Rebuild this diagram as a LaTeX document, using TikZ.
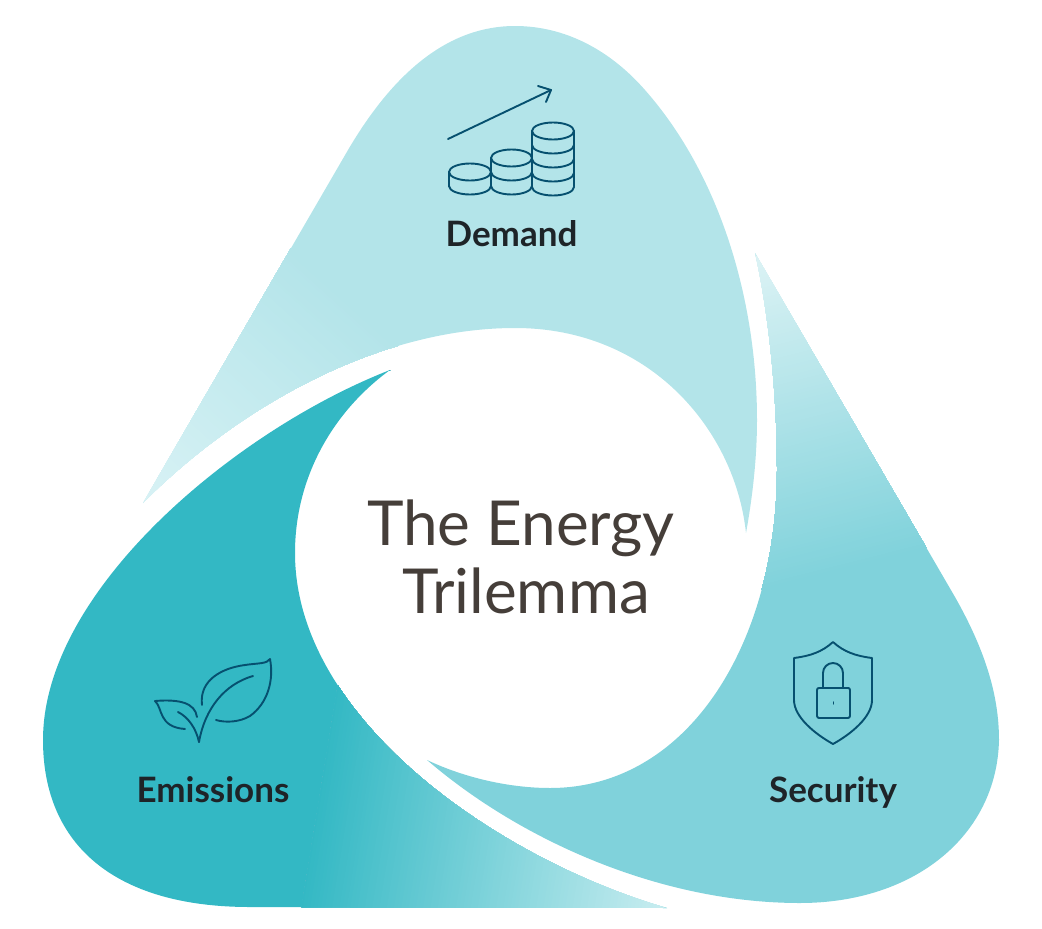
\documentclass[tikz,border=0pt]{standalone}
\usepackage{fontspec}
\setmainfont{Lato}
\definecolor{demandc}{HTML}{B3E4E9}
\definecolor{demandl}{HTML}{D8F2F5}
\definecolor{securc}{HTML}{80D2DB}
\definecolor{securl}{HTML}{DDF3F5}
\definecolor{emisc}{HTML}{33B8C4}
\definecolor{emisl}{HTML}{C8EDF0}
\definecolor{iconc}{HTML}{06506F}
\definecolor{titlec}{HTML}{453E39}
\definecolor{labelc}{HTML}{1E2428}
\newcommand{\gradrect}[6]{%
  \pgfmathsetmacro{\gang}{atan2(-(#4-#2),#3-#1)}%
  \pgfmathsetmacro{\glen}{veclen(#3-#1,#4-#2)}%
  \begin{scope}[shift={(#1,#2)},rotate=\gang]
    \fill[#5] (-1500,-1500) rectangle (\glen,1500);
    \foreach \pp in {1,...,100}{
      \pgfmathsetmacro{\gpos}{\glen/100*\pp}
      \fill[#6!\pp!#5] (\gpos,-1500) rectangle (\glen+1,1500);
    }
  \end{scope}}
\tikzset{
  icon/.style={draw=iconc,line width=1.9pt,line cap=round,line join=round,fill=none},
  lbl/.style={font=\fontsize{35}{39}\selectfont\bfseries,text=labelc,inner sep=0pt,anchor=base},
  ttl/.style={font=\fontsize{62}{70}\selectfont,text=titlec,inner sep=0pt,anchor=base}
}
\begin{document}
\begin{tikzpicture}[x=1pt,y=-1pt]
\useasboundingbox (0,0) rectangle (1042,929);
% Demand
\begin{scope}
\clip (143,503) -- (348,150) .. controls (395,70) and (450,26) .. (515,26)
 .. controls (565,26) and (610,50) .. (645,90)
 .. controls (720,175) and (757,300) .. (757,420)
 .. controls (757,460) and (752,500) .. (746,533)
 .. controls (735,430) and (650,328) .. (515,328)
 .. controls (380,328) and (240,405) .. (143,503) -- cycle;
\fill[demandc] (0,0) rectangle (1042,929);
\gradrect{143}{503}{335}{290}{demandl}{demandc}
\end{scope}
% Security
\begin{scope}
\clip (755,253) -- (955,597) .. controls (985,650) and (999,695) .. (999,740)
 .. controls (997,835) and (915,903) .. (800,903)
 .. controls (660,903) and (520,840) .. (427,760)
 .. controls (465,778) and (510,788) .. (550,788)
 .. controls (690,788) and (777,640) .. (777,470)
 .. controls (777,390) and (768,310) .. (755,253) -- cycle;
\fill[securc] (0,0) rectangle (1042,929);
\gradrect{755}{253}{835}{570}{securl}{securc}
\end{scope}
% Emissions
\begin{scope}
\clip (390,370) .. controls (236,430) and (43,590) .. (43,740)
 .. controls (43,845) and (115,907) .. (250,907)
 -- (667,908)
 .. controls (500,860) and (295,720) .. (295,553)
 .. controls (295,475) and (335,410) .. (390,370) -- cycle;
\fill[emisc] (0,0) rectangle (1042,929);
\gradrect{667}{908}{312}{850}{emisl}{emisc}
\end{scope}
% Demand icon
\draw[icon] (448,139) -- (551,90);
\draw[icon] (538,86) -- (551,90) -- (546,102);
\foreach \cx/\rx/\top/\n in {553/21/131/4,511.5/20.5/158/2,470/21/172/1}{
  \draw[icon] (\cx-\rx,\top) arc[start angle=180,end angle=-180,x radius=\rx,y radius=-8.5];
  \draw[icon] (\cx-\rx,\top) -- (\cx-\rx,186.5) (\cx+\rx,\top) -- (\cx+\rx,186.5);
  \foreach \k in {1,...,\n}{
    \draw[icon] (\cx-\rx,\top+14*\k) arc[start angle=180,end angle=360,x radius=\rx,y radius=-8.5];
  }
}
% Leaf icon
\draw[icon] (202,705) .. controls (199,680) and (222,668) .. (245,665)
 .. controls (258,663) and (267,664) .. (270,659)
 .. controls (274,680) and (268,703) .. (250,716)
 .. controls (240,722) and (226,723) .. (216,720);
\draw[icon] (253,676) .. controls (225,684) and (205,708) .. (199,742);
\draw[icon] (178,712) .. controls (188,717) and (196,728) .. (199,742);
\draw[icon] (197,717) .. controls (195,703) and (180,699) .. (155,701)
 .. controls (163,708) and (158,727) .. (185,729);
% Shield icon
\draw[icon] (833,642) .. controls (822,652) and (810,656) .. (794,658)
 -- (794,700) .. controls (794,717) and (815,734) .. (833,744)
 .. controls (851,734) and (872,717) .. (872,700) -- (872,658)
 .. controls (856,656) and (844,652) .. (833,642) -- cycle;
\draw[icon] (817,690) .. controls (817,688.5) and (818,688) .. (819,688) -- (848,688)
 .. controls (849,688) and (850,688.5) .. (850,690) -- (850,716)
 .. controls (850,717) and (849,718) .. (848,718) -- (819,718)
 .. controls (818,718) and (817,717) .. (817,716) -- cycle;
\draw[icon] (823,688) -- (823,673) arc[start angle=180,end angle=0,radius=10,y radius=-10] -- (843,688);
\draw[icon,line width=1.2pt] (833.5,702) -- (833.5,704);
% Labels
\node[lbl] (demand) at (511.5,246) {Demand};
\node[lbl] (emissions) at (213,802) {Emissions};
\node[lbl] (security) at (833,802) {Security};
\node[ttl] (title1) at (521,545) {The Energy};
\node[ttl] (title2) at (526,613) {Trilemma};
\end{tikzpicture}
\end{document}
